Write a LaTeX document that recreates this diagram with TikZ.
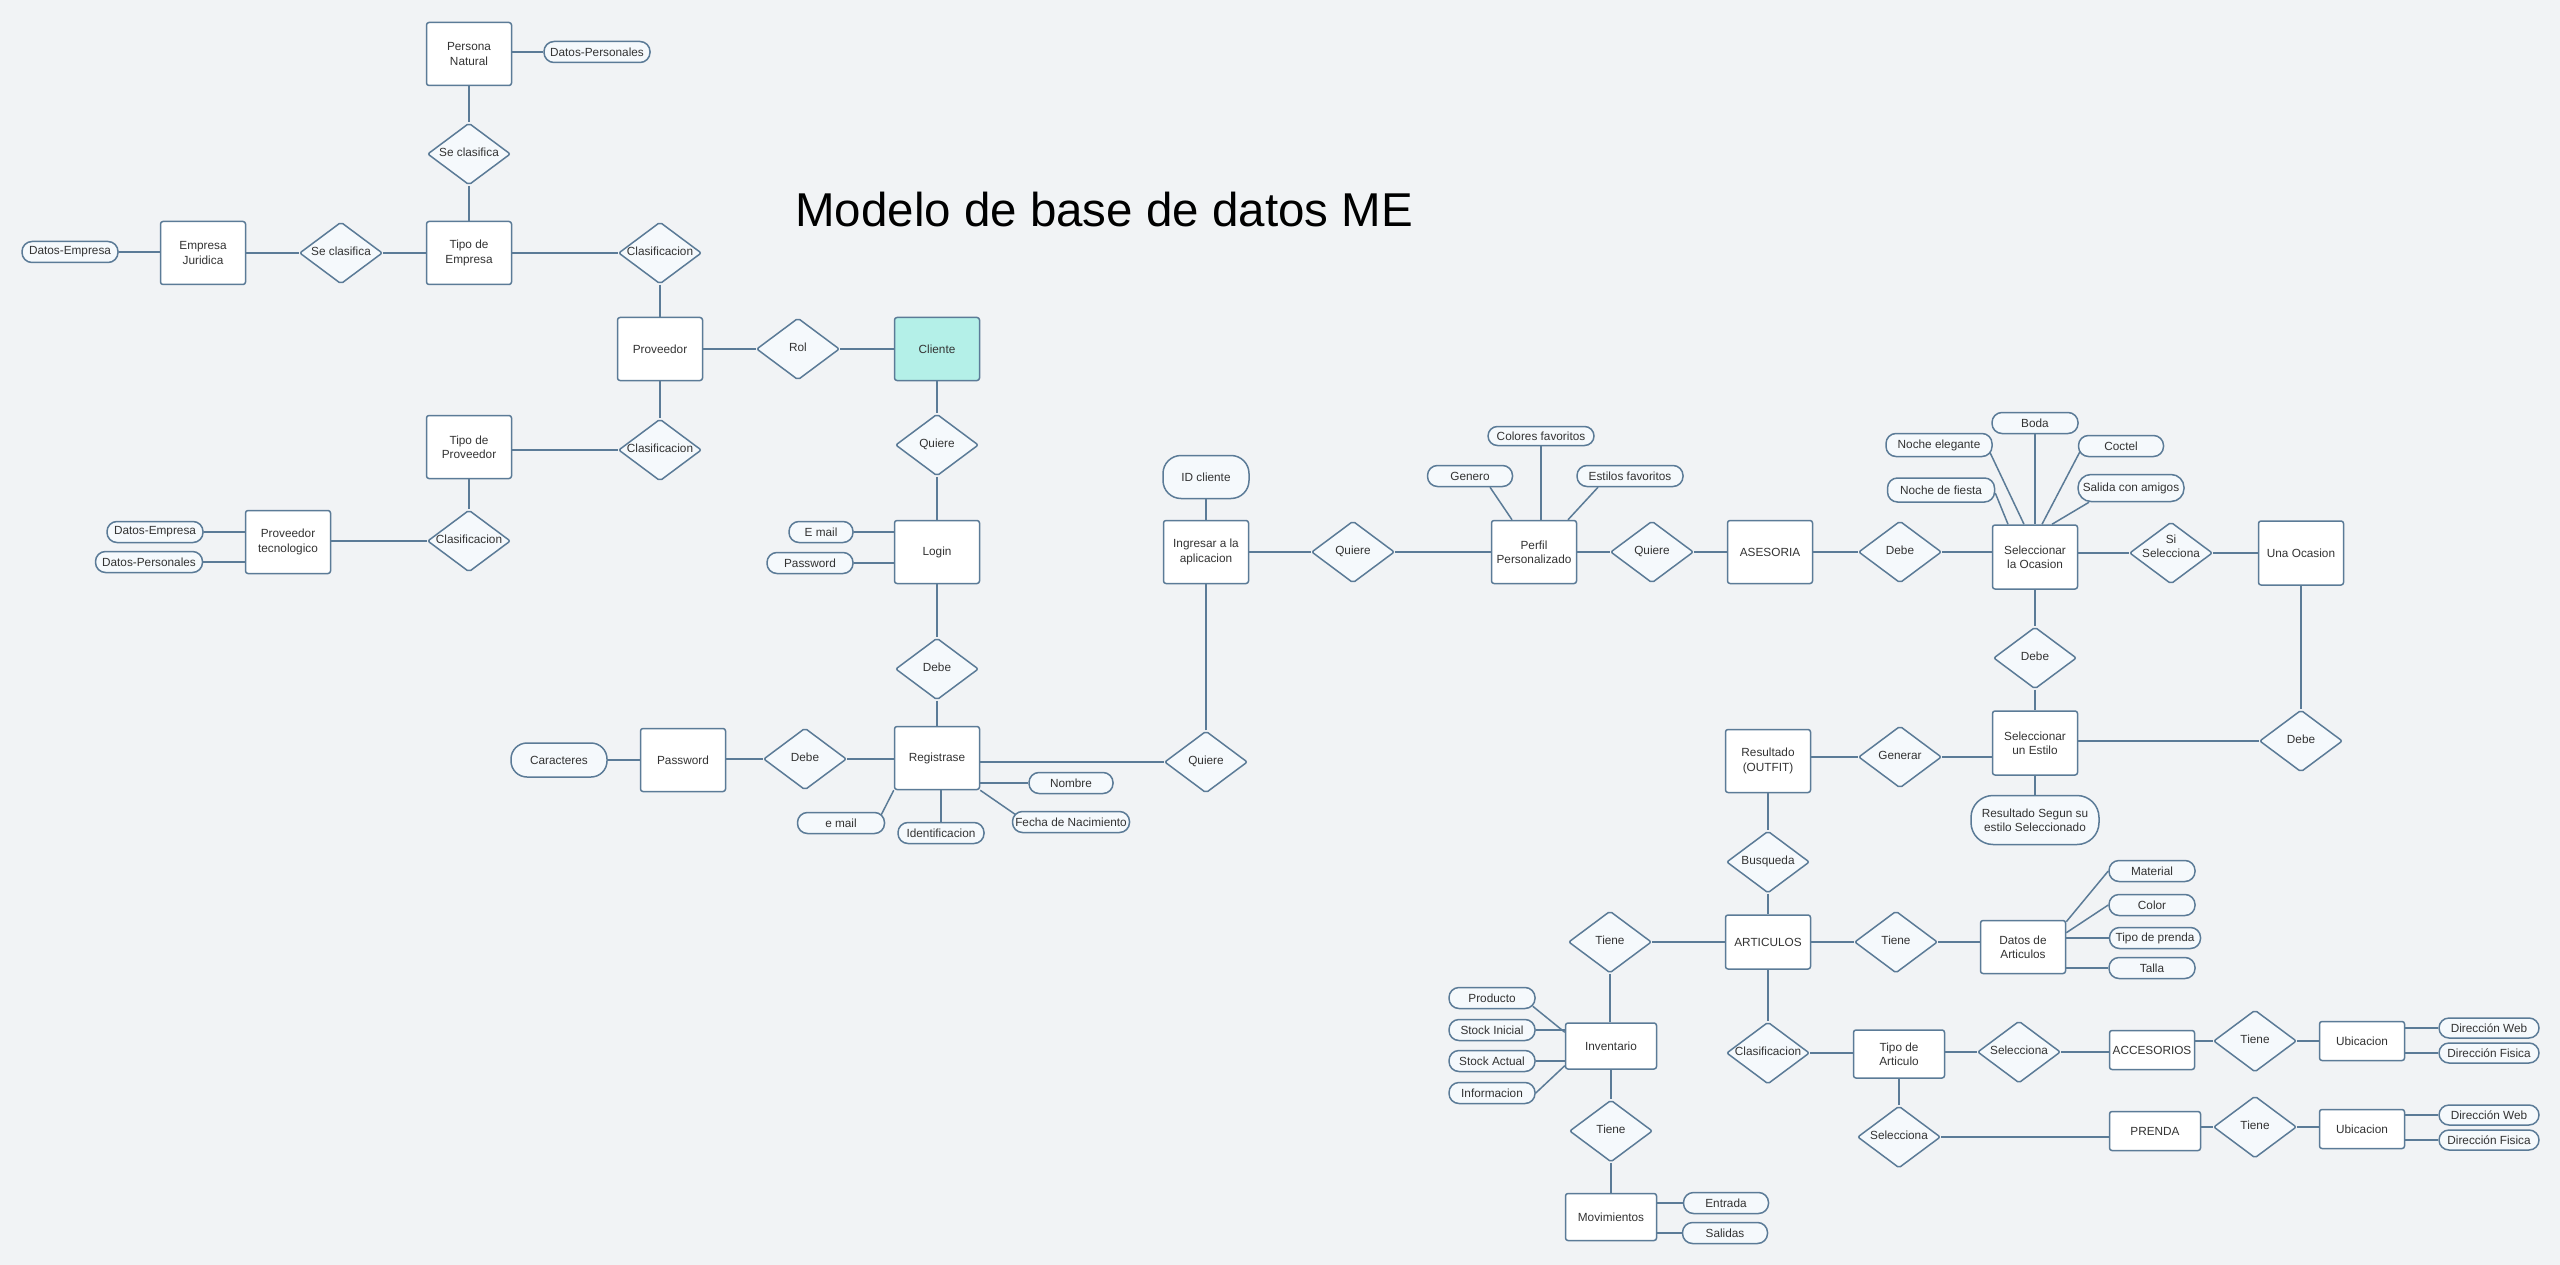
\documentclass[tikz,border=0pt]{standalone}
\usepackage{fontspec}
\setmainfont{Liberation Sans}
\usetikzlibrary{shapes.geometric}
\definecolor{lc}{HTML}{5B7B97}
\definecolor{bgc}{HTML}{F1F3F5}
\definecolor{dfill}{HTML}{F5F9FC}
\definecolor{cfill}{HTML}{B4F0E8}
\definecolor{tc}{HTML}{333333}
\newcommand\fs{\fontsize{11.8}{14.3}\selectfont}
\newcommand\cz[1]{\makebox[0pt][c]{\begin{tabular}{@{}c@{}}#1\end{tabular}}}
\begin{document}
\begin{tikzpicture}[x=1pt,y=-1pt,
 base/.style={draw=lc, line width=1.5pt, inner sep=0pt, font=\fs, align=center, text=tc},
 ent/.style={base, rectangle, fill=white, rounded corners=2.5pt, minimum width=85pt, minimum height=63pt},
 rel/.style={base, diamond, fill=dfill, rounded corners=2pt, minimum width=83pt, minimum height=62pt},
 attr/.style={base, rectangle, fill=dfill, rounded corners=10pt, minimum width=86pt, minimum height=21pt},
 conn/.style={draw=lc, line width=1.5pt},
 lbl/.style={font=\fs, align=center, text=tc, inner sep=0pt},
]
\fill[bgc] (0,0) rectangle (2560,1265);
\useasboundingbox (0,0) rectangle (2560,1265);

\node[anchor=base west, inner sep=0pt, font=\fontsize{47.5}{57}\selectfont] (title) at (795,227) {Modelo de base de datos ME};

% entities
\node[ent] (pn) at (469,54) {Persona\\Natural};
\node[ent] (te) at (469,253) {Tipo de\\Empresa};
\node[ent] (ej) at (203,253) {Empresa\\Juridica};
\node[ent] (prov) at (660,349) {Proveedor};
\node[ent] (tp) at (469,447) {Tipo de\\Proveedor};
\node[ent] (ptec) at (288,542) {Proveedor\\tecnologico};
\node[ent, fill=cfill] (cli) at (937,349) {Cliente};
\node[ent] (login) at (937,552) {Login};
\node[ent] (reg) at (937,758) {Registrase};
\node[ent] (pwd) at (683,760) {Password};
\node[ent] (ing) at (1206,552) {Ingresar a la\\aplicacion};
\node[ent] (perfil) at (1534,552) {Perfil\\Personalizado};
\node[ent] (ases) at (1770,552) {ASESORIA};
\node[ent, minimum height=64pt] (selo) at (2035,557) {Seleccionar\\la Ocasion};
\node[ent, minimum height=64pt] (una) at (2301,553) {Una Ocasion};
\node[ent, minimum height=64pt] (sele) at (2035,743) {Seleccionar\\un Estilo};
\node[ent] (resout) at (1768,761) {Resultado\\(OUTFIT)};
\node[ent, minimum height=54pt] (art) at (1768,942) {ARTICULOS};
\node[ent, minimum height=53pt] (dart) at (2023,947) {Datos de\\Articulos};
\node[ent, minimum width=91pt, minimum height=46pt] (inv) at (1611,1046) {Inventario};
\node[ent, minimum width=91pt, minimum height=47pt] (mov) at (1611,1217) {Movimientos};
\node[ent, minimum width=91pt, minimum height=48pt] (tart) at (1899,1054) {Tipo de\\Articulo};
\node[ent, minimum height=39pt] (acc) at (2152,1050) {ACCESORIOS};
\node[ent, minimum height=39pt] (ubi1) at (2362,1041) {Ubicacion};
\node[ent, minimum width=91pt, minimum height=39pt] (pren) at (2155,1131) {PRENDA};
\node[ent, minimum height=39pt] (ubi2) at (2362,1129) {Ubicacion};

% relations
\node[rel] (sc1) at (469,154) {\cz{Se clasifica}};
\node[rel] (sc2) at (341,253) {\cz{Se clasifica}};
\node[rel] (cl1) at (660,253) {\cz{Clasificacion}};
\node[rel] (cl2) at (660,450) {\cz{Clasificacion}};
\node[rel] (cl3) at (469,541) {\cz{Clasificacion}};
\node[rel] (rol) at (798,349) {\cz{Rol}};
\node[rel] (q1) at (937,445) {\cz{Quiere}};
\node[rel] (debe1) at (937,669) {\cz{Debe}};
\node[rel] (debe2) at (805,759) {\cz{Debe}};
\node[rel] (q2) at (1206,762) {\cz{Quiere}};
\node[rel] (q3) at (1353,552) {\cz{Quiere}};
\node[rel] (q4) at (1652,552) {\cz{Quiere}};
\node[rel] (debe3) at (1900,552) {\cz{Debe}};
\node[rel, label={[lbl, yshift=7pt]center:Si\\Selecciona}] (sisel) at (2171,553) {};
\node[rel] (debe4) at (2035,658) {\cz{Debe}};
\node[rel] (debe5) at (2301,741) {\cz{Debe}};
\node[rel] (gen) at (1900,757) {\cz{Generar}};
\node[rel] (busq) at (1768,862) {\cz{Busqueda}};
\node[rel] (tiene1) at (1610,942) {\cz{Tiene}};
\node[rel] (tiene2) at (1896,942) {\cz{Tiene}};
\node[rel] (tiene3) at (1611,1131) {\cz{Tiene}};
\node[rel] (cl4) at (1768,1053) {\cz{Clasificacion}};
\node[rel] (sel1) at (2019,1052) {\cz{Selecciona}};
\node[rel] (sel2) at (1899,1137) {\cz{Selecciona}};
\node[rel] (tiene4) at (2255,1041) {\cz{Tiene}};
\node[rel] (tiene5) at (2255,1127) {\cz{Tiene}};

% attributes
\node[attr, minimum width=106pt] (dp1) at (597,52) {Datos-Personales};
\node[attr, minimum width=96pt] (de1) at (70,252) {Datos-Empresa};
\node[attr, minimum width=96pt] (de2) at (155,532) {Datos-Empresa};
\node[attr, minimum width=107pt] (dp2) at (149,562) {Datos-Personales};
\node[attr, minimum width=64pt] (em1) at (821,532) {E mail};
\node[attr] (pa) at (810,563) {Password};
\node[attr, minimum width=96pt, minimum height=34pt, rounded corners=16pt] (car) at (559,760) {Caracteres};
\node[attr, minimum width=84pt] (nom) at (1071,783) {Nombre};
\node[attr, minimum width=87pt] (em2) at (841,823) {e mail};
\node[attr] (idn) at (941,833) {Identificacion};
\node[attr, minimum width=117pt] (fec) at (1071,822) {Fecha de Nacimiento};
\node[attr, minimum width=86pt, minimum height=43pt, rounded corners=18pt] (idc) at (1206,477) {ID cliente};
\node[attr, minimum width=85pt] (gnr) at (1470,476) {Genero};
\node[attr, minimum width=106pt, minimum height=19pt, rounded corners=9.5pt] (colf) at (1541,436) {Colores favoritos};
\node[attr, minimum width=106pt] (estf) at (1630,476) {Estilos favoritos};
\node[attr] (boda) at (2035,423) {Boda};
\node[attr, minimum width=106pt, minimum height=23pt] (noel) at (1939,445) {Noche elegante};
\node[attr, minimum width=85pt] (coc) at (2121,446) {Coctel};
\node[attr, minimum width=107pt, minimum height=24pt] (nofi) at (1941,490) {Noche de fiesta};
\node[attr, minimum width=106pt, minimum height=27pt, rounded corners=13pt] (sal) at (2131,488) {Salida con amigos};
\node[attr, minimum width=128pt, minimum height=49pt, rounded corners=22pt] (rss) at (2035,820) {Resultado Segun su\\estilo Seleccionado};
\node[attr] (mat) at (2152,871) {Material};
\node[attr] (colr) at (2152,905) {Color};
\node[attr, minimum width=91pt] (tpr) at (2155,938) {Tipo de prenda};
\node[attr] (tal) at (2152,968) {Talla};
\node[attr] (prod) at (1492,998) {Producto};
\node[attr] (sti) at (1492,1030) {Stock Inicial};
\node[attr] (sta) at (1492,1061) {Stock Actual};
\node[attr] (info) at (1492,1093) {Informacion};
\node[attr, minimum width=85pt] (entr) at (1726,1203) {Entrada};
\node[attr, minimum width=85pt] (sali) at (1725,1233) {Salidas};
\node[attr, minimum width=100pt, minimum height=20pt] (dw1) at (2489,1028) {Dirección Web};
\node[attr, minimum width=100pt, minimum height=20pt] (df1) at (2489,1053) {Dirección Fisica};
\node[attr, minimum width=100pt, minimum height=20pt] (dw2) at (2489,1115) {Dirección Web};
\node[attr, minimum width=100pt, minimum height=20pt] (df2) at (2489,1140) {Dirección Fisica};

% connectors
\draw[conn] (dp1.west) -- (dp1.west -| pn.east);
\draw[conn] (pn) -- (sc1);
\draw[conn] (sc1) -- (te);
\draw[conn] (de1.east) -- (de1.east -| ej.west);
\draw[conn] (ej) -- (sc2);
\draw[conn] (sc2) -- (te);
\draw[conn] (te) -- (cl1);
\draw[conn] (cl1) -- (prov);
\draw[conn] (prov) -- (cl2);
\draw[conn] (cl2.west) -- (cl2.west -| tp.east);
\draw[conn] (tp) -- (cl3);
\draw[conn] (cl3.west) -- (cl3.west -| ptec.east);
\draw[conn] (de2.east) -- (de2.east -| ptec.west);
\draw[conn] (dp2.east) -- (dp2.east -| ptec.west);
\draw[conn] (prov) -- (rol);
\draw[conn] (rol) -- (cli);
\draw[conn] (cli) -- (q1);
\draw[conn] (q1) -- (login);
\draw[conn] (em1.east) -- (em1.east -| login.west);
\draw[conn] (pa.east) -- (pa.east -| login.west);
\draw[conn] (login) -- (debe1);
\draw[conn] (debe1) -- (reg);
\draw[conn] (debe2.east) -- (debe2.east -| reg.west);
\draw[conn] (debe2.west) -- (debe2.west -| pwd.east);
\draw[conn] (car.east) -- (car.east -| pwd.west);
\draw[conn] (q2.west -| reg.east) -- (q2.west);
\draw[conn] (q2) -- (ing);
\draw[conn] (idc) -- (ing);
\draw[conn] (nom.west -| reg.east) -- (nom.west);
\draw[conn] (reg.south west) -- ([xshift=-4pt,yshift=-3pt]em2.north east);
\draw[conn] (reg.south -| idn) -- (idn.north);
\draw[conn] (reg.south east) -- ([xshift=4pt,yshift=-4pt]fec.north west);
\draw[conn] (ing) -- (q3);
\draw[conn] (q3) -- (perfil);
\draw[conn] (perfil) -- (q4);
\draw[conn] (q4) -- (ases);
\draw[conn] (ases) -- (debe3);
\draw[conn] (debe3.east) -- (debe3.east -| selo.west);
\draw[conn] (sisel.west -| selo.east) -- (sisel.west);
\draw[conn] (sisel.east) -- (sisel.east -| una.west);
\draw[conn] ([xshift=20pt]gnr.south) -- ([xshift=-22pt]perfil.north);
\draw[conn] (colf.south) -- (colf.south |- perfil.north);
\draw[conn] ([xshift=-32pt]estf.south) -- ([xshift=34pt]perfil.north);
\draw[conn] ([yshift=-3pt]nofi.east) -- ([xshift=-27pt]selo.north);
\draw[conn] ([xshift=-3pt,yshift=-7pt]noel.east) -- ([xshift=-11pt]selo.north);
\draw[conn] (boda) -- (selo);
\draw[conn] ([xshift=2pt,yshift=-6pt]coc.west) -- ([xshift=7pt]selo.north);
\draw[conn] ([xshift=-42pt]sal.south) -- ([xshift=17pt]selo.north);
\draw[conn] (selo) -- (debe4);
\draw[conn] (debe4) -- (sele);
\draw[conn] (una) -- (debe5);
\draw[conn] (debe5.west) -- (debe5.west -| sele.east);
\draw[conn] (gen.east) -- (gen.east -| sele.west);
\draw[conn] (gen.west) -- (gen.west -| resout.east);
\draw[conn] (sele) -- (rss);
\draw[conn] (resout) -- (busq);
\draw[conn] (busq) -- (art);
\draw[conn] (art) -- (tiene1);
\draw[conn] (tiene1.south) -- (tiene1.south |- inv.north);
\draw[conn] (inv) -- (tiene3);
\draw[conn] (tiene3) -- (mov);
\draw[conn] (art) -- (tiene2);
\draw[conn] (tiene2.east) -- (tiene2.east -| dart.west);
\draw[conn] (mat.west) -- ([yshift=-2pt]dart.north east);
\draw[conn] (colr.west) -- ([yshift=-13pt]dart.north east);
\draw[conn] (tpr.west -| dart.east) -- (tpr.west);
\draw[conn] (tal.west -| dart.east) -- (tal.west);
\draw[conn] (art) -- (cl4);
\draw[conn] (cl4.east) -- (cl4.east -| tart.west);
\draw[conn] (sel1.west -| tart.east) -- (sel1.west);
\draw[conn] (sel1.east) -- (sel1.east -| acc.west);
\draw[conn] (tiene4.west -| acc.east) -- (tiene4.west);
\draw[conn] (tiene4.east) -- (tiene4.east -| ubi1.west);
\draw[conn] (dw1.west -| ubi1.east) -- (dw1.west);
\draw[conn] (df1.west -| ubi1.east) -- (df1.west);
\draw[conn] (tart) -- (sel2);
\draw[conn] (sel2.east) -- (sel2.east -| pren.west);
\draw[conn] (tiene5.west -| pren.east) -- (tiene5.west);
\draw[conn] (tiene5.east) -- (tiene5.east -| ubi2.west);
\draw[conn] (dw2.west -| ubi2.east) -- (dw2.west);
\draw[conn] (df2.west -| ubi2.east) -- (df2.west);
\draw[conn] ([xshift=-3pt,yshift=3pt]prod.south east) -- ([yshift=-10pt]inv.north west);
\draw[conn] (sti.east) -- (sti.east -| inv.west);
\draw[conn] (sta.east) -- (sta.east -| inv.west);
\draw[conn] (info.east) -- ([yshift=4pt]inv.south west);
\draw[conn] (entr.west -| mov.east) -- (entr.west);
\draw[conn] (sali.west -| mov.east) -- (sali.west);
\end{tikzpicture}
\end{document}
